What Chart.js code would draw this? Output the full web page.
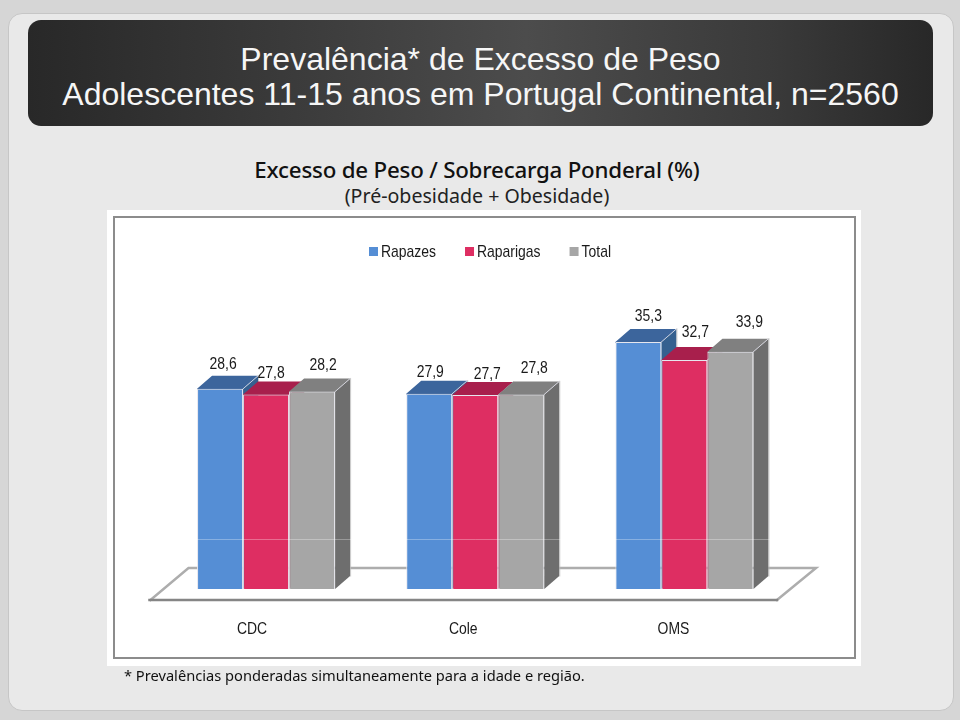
<!DOCTYPE html>
<html lang="pt">
<head>
<meta charset="utf-8">
<title>Prevalência de Excesso de Peso</title>
<script src="https://cdn.jsdelivr.net/npm/chart.js@4"></script>
<style>
    html, body { margin: 0; padding: 0; }
    body { width: 960px; height: 720px; background: #d6d6d6; position: relative; overflow: hidden; }
    #panel { position: absolute; left: 8px; top: 13px; width: 944px; height: 696px; background: #e9e9e9; border: 1px solid #c6c6c6; border-radius: 14px; }
    #banner { position: absolute; left: 28px; top: 20px; width: 905px; height: 84px; border-radius: 13px;
        background: linear-gradient(90deg, #282828 0%, #383838 25%, #4c4c4c 55%, #3a3a3a 82%, #282828 100%);
        color: #f6f6f6; font: 32px/35px "Liberation Sans", sans-serif; text-align: center; padding-top: 22px; }
    .sub { position: absolute; left: 0; width: 954px; text-align: center; color: #111; font-family: "Noto Sans", sans-serif; white-space: nowrap; }
    #sub1 { top: 154px; font-size: 22.3px; font-weight: 500; letter-spacing: -0.2px; }
    #sub2 { top: 182px; font-size: 19.6px; color: #222; }
    #box { position: absolute; left: 107px; top: 210px; width: 754px; height: 456px; background: #fff; }
    #frame { position: absolute; left: 6px; top: 6px; width: 739px; height: 439px; border: 2px solid #8c8c8c; }
    #myChart { position: absolute; left: 0; top: 0; }
    #note { position: absolute; left: 124px; top: 665px; font: 14.65px "Noto Sans", sans-serif; color: #111; white-space: nowrap; }
</style>
</head>
<body>
<div id="panel"></div>
<div id="banner">Prevalência* de Excesso de Peso<br>Adolescentes 11-15 anos em Portugal Continental, n=2560</div>
<div class="sub" id="sub1">Excesso de Peso / Sobrecarga Ponderal (%)</div>
<div class="sub" id="sub2">(Pré-obesidade + Obesidade)</div>
<div id="box">
    <div id="frame"></div>
    <canvas id="myChart" width="754" height="456"></canvas>
</div>
<div id="note">* Prevalências ponderadas simultaneamente para a idade e região.</div>
<script>
const categories = ['CDC', 'Cole', 'OMS'];
const rapazes = [28.6, 27.9, 35.3];
const raparigas = [27.8, 27.7, 32.7];
const total = [28.2, 27.8, 33.9];

const depthX = 15;
const depthY = 13;
const faintLineValue = 7.1;

// top and side colours of the fake 3D faces, same order as the datasets
const topColors = ['#3c659c', '#a81f4c', '#808080'];
const sideColors = ['#35608f', '#8e1d40', '#6e6e6e'];
// label shift from the bar's top centre, one row per dataset
const labelNudge = [
    [[3, -24], [1, -21], [10, -26]],
    [[5, -21], [12, -21], [11, -28]],
    [[11, -26], [13, -26], [19, -29]]
];
const tickNudge = [-14, -12, -11];

function face(ctx, pts, color) {
    ctx.fillStyle = color;
    ctx.beginPath();
    pts.forEach(function (p, i) { i ? ctx.lineTo(p[0], p[1]) : ctx.moveTo(p[0], p[1]); });
    ctx.closePath();
    ctx.fill();
}

// no narrow font installed, so squeeze Liberation Sans
function narrowText(ctx, text, x, y, align) {
    ctx.save();
    ctx.font = '17px "Liberation Sans", sans-serif';
    ctx.fillStyle = '#1a1a1a';
    ctx.textAlign = align || 'center';
    ctx.textBaseline = 'middle';
    ctx.translate(x, y);
    ctx.scale(0.82, 1);
    ctx.fillText(text, 0, 0);
    ctx.restore();
}

const fake3d = {
    id: 'fake3d',
    beforeDatasetsDraw(chart) {
        const ctx = chart.ctx;
        const a = chart.chartArea;
        const base = chart.scales.y.getPixelForValue(0);
        ctx.save();
        // floor behind the bars
        ctx.lineCap = 'square';
        ctx.strokeStyle = '#adadad';
        ctx.lineWidth = 2.5;
        ctx.beginPath();
        ctx.moveTo(a.left - 11, base + 11);
        ctx.lineTo(a.left + 27, base - 21);
        ctx.lineTo(a.right + 27, base - 21);
        ctx.lineTo(a.right - 12, base + 11);
        ctx.stroke();
        ctx.strokeStyle = '#858585';
        ctx.beginPath();
        ctx.moveTo(a.left - 12, base + 11);
        ctx.lineTo(a.right - 12, base + 11);
        ctx.stroke();
        // top and side faces, left bar first; the fronts are drawn after this
        chart.data.datasets.forEach(function (ds, i) {
            chart.getDatasetMeta(i).data.forEach(function (bar) {
                const p = bar.getProps(['x', 'y', 'base', 'width'], true);
                const l = p.x - p.width / 2;
                const r = p.x + p.width / 2;
                face(ctx, [[r, p.y], [r + depthX, p.y - depthY], [r + depthX, p.base - depthY], [r, p.base]], sideColors[i]);
                // one extra pixel down so the next bar's side can't show through the front's top edge
                face(ctx, [[l, p.y + 1], [l, p.y], [l + depthX, p.y - depthY], [r + depthX, p.y - depthY], [r, p.y], [r, p.y + 1]], topColors[i]);
                ctx.strokeStyle = 'rgba(225,225,235,0.8)';
                ctx.lineWidth = 1;
                ctx.beginPath();
                ctx.moveTo(r, p.y);
                ctx.lineTo(r + depthX, p.y - depthY);
                ctx.stroke();
                ctx.strokeStyle = 'rgba(190,190,190,0.8)';
                ctx.beginPath();
                ctx.moveTo(r + depthX + 0.5, p.y - depthY);
                ctx.lineTo(r + depthX + 0.5, p.base - depthY);
                ctx.stroke();
            });
        });
        ctx.restore();
    },
    // value labels, category labels and legend
    afterDraw(chart) {
        const ctx = chart.ctx;
        const a = chart.chartArea;
        const faintY = Math.round(chart.scales.y.getPixelForValue(faintLineValue)) + 0.5;
        ctx.save();
        ctx.strokeStyle = 'rgba(255,255,255,0.3)';
        ctx.lineWidth = 1;
        ctx.beginPath();
        ctx.moveTo(a.left, faintY);
        ctx.lineTo(a.right, faintY);
        ctx.stroke();
        ctx.restore();
        chart.data.datasets.forEach(function (ds, i) {
            chart.getDatasetMeta(i).data.forEach(function (bar, j) {
                const n = labelNudge[i][j];
                narrowText(ctx, String(ds.data[j]).replace('.', ','), bar.x + n[0], bar.y + n[1]);
            });
        });
        const xScale = chart.scales.x;
        categories.forEach(function (c, i) {
            narrowText(ctx, c, xScale.getPixelForValue(i) + tickNudge[i], 419);
        });
        let x = 262;
        chart.data.datasets.forEach(function (ds) {
            ctx.fillStyle = ds.backgroundColor;
            ctx.fillRect(x, 37, 9, 9);
            narrowText(ctx, ds.label, x + 12, 42, 'left');
            ctx.font = '17px "Liberation Sans", sans-serif';
            x += 12 + ctx.measureText(ds.label).width * 0.82 + 29;
        });
    }
};

const ctxBar = document.getElementById('myChart').getContext('2d');
const myChart = new Chart(ctxBar, {
    type: 'bar',
    data: {
        labels: categories,
        datasets: [
            { label: 'Rapazes', data: rapazes, backgroundColor: '#558ed5' },
            { label: 'Raparigas', data: raparigas, backgroundColor: '#de2e62' },
            { label: 'Total', data: total, backgroundColor: '#a6a6a6' }
        ].map(function (ds) {
            return Object.assign(ds, {
                borderColor: '#e6e6ee',
                borderWidth: 1,
                borderSkipped: 'bottom',
                categoryPercentage: 0.66,
                barPercentage: 1
            });
        })
    },
    options: {
        responsive: false,
        animation: false,
        layout: { padding: { left: 54.5, right: 72, top: 99, bottom: 69 } },
        plugins: {
            legend: { display: false },
            tooltip: { enabled: false }
        },
        scales: {
            x: {
                grid: { display: false },
                border: { display: false },
                ticks: { display: false }
            },
            y: {
                display: false,
                min: 0,
                max: 40
            }
        }
    },
    plugins: [fake3d]
});
</script>
</body>
</html>
